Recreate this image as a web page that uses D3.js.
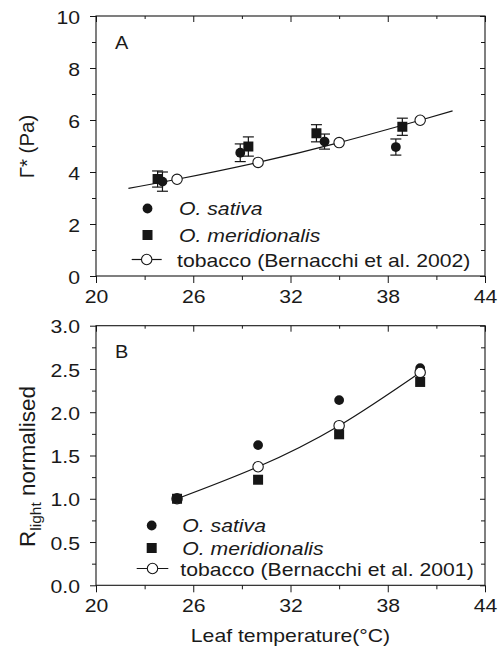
<!DOCTYPE html>
<html>
<head>
<meta charset="utf-8">
<script src="https://cdn.jsdelivr.net/npm/d3@7"></script>
<style>
  html, body { margin: 0; padding: 0; background: #fff; }
  svg { display: block; }
  text { font-family: "Liberation Sans", Arial, sans-serif; fill: #1a1a1a; }
</style>
</head>
<body>
<svg id="chart" width="503" height="648"></svg>
<script>
// ---- Panel A: CO2 compensation point (Pa) vs leaf temperature ----
const sativaTempA = [24.1, 28.9, 34.1, 38.5];
const sativaGamma = [3.63, 4.74, 5.17, 4.96];
const sativaGammaErr = [0.37, 0.34, 0.29, 0.31];

const meridTempA = [23.8, 29.4, 33.6, 38.9];
const meridGamma = [3.73, 4.98, 5.49, 5.74];
const meridGammaErr = [0.31, 0.37, 0.33, 0.33];

const tobaccoTempA = [25, 30, 35, 40];
const tobaccoGamma = [3.72, 4.37, 5.13, 5.99];

// fitted tobacco curve, 22-42 °C
const fitTempA = [22, 25, 30, 35, 40, 42];
const fitGamma = [3.37, 3.72, 4.37, 5.13, 5.99, 6.35];

// ---- Panel B: normalised day respiration ----
const tempB = [25, 30, 35, 40];
const sativaR = [1.0, 1.62, 2.14, 2.51];
const meridR = [1.0, 1.22, 1.745, 2.35];
const tobaccoR = [1.0, 1.37, 1.845, 2.46];

// ---- ticks ----
const xMajor = [20, 26, 32, 38, 44];
const xMinor = [23, 29, 35, 41];
const yMajorA = [0, 2, 4, 6, 8, 10];
const yMinorA = [1, 3, 5, 7, 9];
const yMajorB = [0, 0.5, 1.0, 1.5, 2.0, 2.5, 3.0];
const yMinorB = [0.25, 0.75, 1.25, 1.75, 2.25, 2.75];

const legendA = ["O. sativa", "O. meridionalis", "tobacco (Bernacchi et al. 2002)"];
const legendB = ["O. sativa", "O. meridionalis", "tobacco (Bernacchi et al. 2001)"];

const SX = 1.14;      // horizontal stretch of the lettering
const FS = 18.6;      // base font size
const INK = "#161616";

const svg = d3.select("#chart");
svg.append("rect").attr("width", 503).attr("height", 648).attr("fill", "#fff");

function stretchedText(g, x, y, str, opts = {}) {
  const t = g.append("text")
    .attr("transform", `translate(${x},${y}) scale(${SX},1)`)
    .attr("font-size", opts.size || FS)
    .attr("text-anchor", opts.anchor || "start")
    .text(str);
  if (opts.italic) t.attr("font-style", "italic");
  return t;
}

function stretchAxisLabels(axisG) {
  axisG.selectAll("text").each(function () {
    const t = d3.select(this);
    const x = +t.attr("x") || 0;
    const y = +t.attr("y") || 0;
    t.attr("x", 0).attr("y", 0)
     .attr("transform", `translate(${x},${y}) scale(${SX},1)`);
  });
}

function panel(cfg) {
  const { x, y, yMajor, yMinor, fmt } = cfg;
  const g = svg.append("g");
  const [x0, x1] = x.range();
  const [y0, y1] = y.range();

  const style = sel => {
    sel.select(".domain").remove();
    sel.selectAll("line").attr("stroke", INK).attr("stroke-width", 1);
    sel.selectAll("text").attr("font-size", FS).attr("fill", INK)
       .attr("font-family", "Liberation Sans, Arial, sans-serif");
  };

  // bottom (outward)
  g.append("g").attr("transform", `translate(0,${y0})`)
    .call(d3.axisBottom(x).tickValues(xMinor).tickSize(4).tickFormat(""))
    .call(style);
  const bx = g.append("g").attr("transform", `translate(0,${y0})`)
    .call(d3.axisBottom(x).tickValues(xMajor).tickSize(7).tickPadding(0).tickFormat(d3.format("d")))
    .call(style);
  bx.selectAll("text").attr("dy", null).attr("y", 26.5);
  stretchAxisLabels(bx);

  // top (inward)
  g.append("g").attr("transform", `translate(0,${y1})`)
    .call(d3.axisTop(x).tickValues(xMinor).tickSize(-3).tickFormat(""))
    .call(style);
  g.append("g").attr("transform", `translate(0,${y1})`)
    .call(d3.axisTop(x).tickValues(xMajor).tickSize(-6).tickFormat(""))
    .call(style);

  // left (outward)
  g.append("g").attr("transform", `translate(${x0},0)`)
    .call(d3.axisLeft(y).tickValues(yMinor).tickSize(4).tickFormat(""))
    .call(style);
  const ly = g.append("g").attr("transform", `translate(${x0},0)`)
    .call(d3.axisLeft(y).tickValues(yMajor).tickSize(6).tickPadding(10).tickFormat(fmt))
    .call(style);
  ly.selectAll("text").attr("dy", "0.38em");
  stretchAxisLabels(ly);

  // right (inward)
  g.append("g").attr("transform", `translate(${x1},0)`)
    .call(d3.axisRight(y).tickValues(yMinor).tickSize(-4).tickFormat(""))
    .call(style);
  g.append("g").attr("transform", `translate(${x1},0)`)
    .call(d3.axisRight(y).tickValues(yMajor).tickSize(-5).tickFormat(""))
    .call(style);

  // frame
  g.append("rect")
    .attr("x", x0).attr("y", y1)
    .attr("width", x1 - x0).attr("height", y0 - y1)
    .attr("fill", "none").attr("stroke", INK).attr("stroke-width", 1.1);

  return g;
}

function errorBars(g, x, y, temps, vals, errs) {
  const cap = 5.5;
  const eb = g.append("g").attr("stroke", INK).attr("stroke-width", 1.2);
  temps.forEach((t, i) => {
    const cx = x(t), top = y(vals[i] + errs[i]), bot = y(vals[i] - errs[i]);
    eb.append("line").attr("x1", cx).attr("x2", cx).attr("y1", top).attr("y2", bot);
    eb.append("line").attr("x1", cx - cap).attr("x2", cx + cap).attr("y1", top).attr("y2", top);
    eb.append("line").attr("x1", cx - cap).attr("x2", cx + cap).attr("y1", bot).attr("y2", bot);
  });
}

function filledCircles(g, x, y, temps, vals) {
  g.append("g").selectAll("circle").data(temps).join("circle")
    .attr("cx", d => x(d)).attr("cy", (d, i) => y(vals[i]))
    .attr("r", 4.9).attr("fill", INK);
}
function openCircles(g, x, y, temps, vals) {
  g.append("g").selectAll("circle").data(temps).join("circle")
    .attr("cx", d => x(d)).attr("cy", (d, i) => y(vals[i]))
    .attr("r", 5.2).attr("fill", "#fff").attr("stroke", INK).attr("stroke-width", 1.1);
}
function squares(g, x, y, temps, vals) {
  const s = 10;
  g.append("g").selectAll("rect").data(temps).join("rect")
    .attr("x", d => x(d) - s / 2).attr("y", (d, i) => y(vals[i]) - s / 2)
    .attr("width", s).attr("height", s).attr("fill", INK);
}
function fitLine(g, x, y, temps, vals) {
  const line = d3.line().x(d => x(d[0])).y(d => y(d[1])).curve(d3.curveNatural);
  g.append("path").datum(temps.map((t, i) => [t, vals[i]]))
    .attr("d", line).attr("fill", "none").attr("stroke", INK).attr("stroke-width", 1.2);
}

function legend(g, items, mx, lineX0, lineX1, rows, tx) {
  // rows: centre line of each legend row; text baselines sit ~6.7px lower
  g.append("circle").attr("cx", mx).attr("cy", rows[0]).attr("r", 4.9).attr("fill", INK);
  g.append("rect").attr("x", mx - 5).attr("y", rows[1] - 5).attr("width", 10).attr("height", 10).attr("fill", INK);
  g.append("line").attr("x1", lineX0).attr("x2", lineX1).attr("y1", rows[2]).attr("y2", rows[2])
    .attr("stroke", INK).attr("stroke-width", 1.2);
  g.append("circle").attr("cx", (lineX0 + lineX1) / 2).attr("cy", rows[2]).attr("r", 5.2)
    .attr("fill", "#fff").attr("stroke", INK).attr("stroke-width", 1.1);
  stretchedText(g, tx, rows[0] + 6.7, items[0], { italic: true });
  stretchedText(g, tx, rows[1] + 6.7, items[1], { italic: true });
  stretchedText(g, tx - 2, rows[2] + 7.2, items[2]);
}

// ===== Panel A =====
const xA = d3.scaleLinear().domain([20, 44]).range([96, 485]);
const yA = d3.scaleLinear().domain([0, 10]).range([276, 16]);
const gA = panel({ x: xA, y: yA, yMajor: yMajorA, yMinor: yMinorA, fmt: d3.format("d") });

fitLine(gA, xA, yA, fitTempA, fitGamma);
errorBars(gA, xA, yA, meridTempA, meridGamma, meridGammaErr);
errorBars(gA, xA, yA, sativaTempA, sativaGamma, sativaGammaErr);
openCircles(gA, xA, yA, tobaccoTempA, tobaccoGamma);
squares(gA, xA, yA, meridTempA, meridGamma);
filledCircles(gA, xA, yA, sativaTempA, sativaGamma);

stretchedText(gA, 115, 48.5, "A", { size: 17.5 });
legend(gA, legendA, 147.5, 131.7, 161.7, [208.5, 235, 259.5], 179);

gA.append("text")
  .attr("transform", "translate(33.5,146.5) rotate(-90)")
  .attr("text-anchor", "middle").attr("font-size", 20.5)
  .text("Γ* (Pa)");

// ===== Panel B =====
const xB = d3.scaleLinear().domain([20, 44]).range([96, 485]);
const yB = d3.scaleLinear().domain([0, 3]).range([585.3, 325.7]);
const gB = panel({ x: xB, y: yB, yMajor: yMajorB, yMinor: yMinorB, fmt: d3.format(".1f") });

fitLine(gB, xB, yB, tempB, tobaccoR);
filledCircles(gB, xB, yB, tempB, sativaR);
openCircles(gB, xB, yB, tempB, tobaccoR);
squares(gB, xB, yB, tempB, meridR);

stretchedText(gB, 115, 358, "B", { size: 17.5 });
legend(gB, legendB, 151.7, 136.7, 168.3, [525.5, 548, 568.5], 182.3);

const yt = gB.append("text")
  .attr("transform", "translate(35,466.5) rotate(-90)")
  .attr("text-anchor", "middle").attr("font-size", 22.5);
yt.append("tspan").text("R");
yt.append("tspan").attr("font-size", 15.5).attr("dy", 5.5).text("light");
yt.append("tspan").attr("dy", -5.5).text(" normalised");

stretchedText(svg, 290.5, 642, "Leaf temperature(°C)", { anchor: "middle" });
</script>
</body>
</html>
